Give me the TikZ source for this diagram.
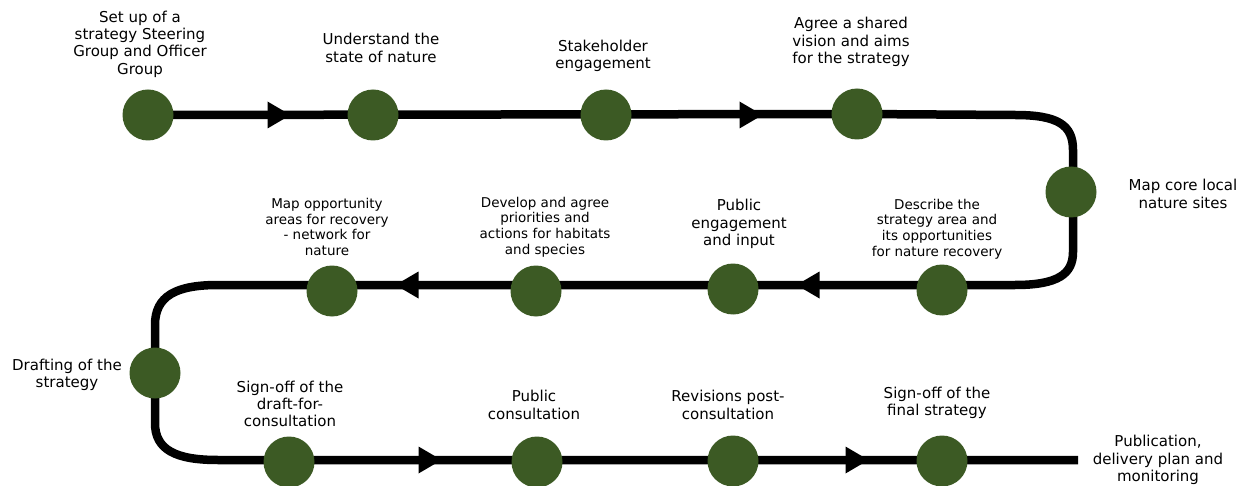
\documentclass[tikz,border=0pt]{standalone}
\usepackage{fontspec}
\setmainfont{DejaVu Sans}
\usetikzlibrary{backgrounds}
\definecolor{stepgreen}{RGB}{60,90,36}
\begin{document}
\begin{tikzpicture}[x=1pt,y=-1pt,
  dot/.style={circle,fill=stepgreen,minimum size=51pt,inner sep=0pt},
  lbl/.style={align=center,inner sep=0pt,font=\fontsize{15}{17.4}\selectfont},
  slbl/.style={align=center,inner sep=0pt,font=\fontsize{13.5}{15.6}\selectfont},
  track/.style={line width=8.5pt,black},
  tipR/.pic={\fill[black] (-11.5,-13.5) -- (11.5,0) -- (-11.5,13.5) -- cycle;},
  tipL/.pic={\fill[black] (11.5,-13.5) -- (-11.5,0) -- (11.5,13.5) -- cycle;}]
\useasboundingbox (0,0) rectangle (1249,486);

% step circles
\node[dot] (s1) at (148,115) {};
\node[dot] (s2) at (373,115) {};
\node[dot] (s3) at (606,115) {};
\node[dot] (s4) at (857,114) {};
\node[dot] (s5) at (1071,192) {};
\node[dot] (s6) at (942,290) {};
\node[dot] (s7) at (733,289) {};
\node[dot] (s8) at (536,291) {};
\node[dot] (s9) at (332,291) {};
\node[dot] (s10) at (155,373) {};
\node[dot] (s11) at (289,462) {};
\node[dot] (s12) at (537,462) {};
\node[dot] (s13) at (733,461) {};
\node[dot] (s14) at (942,461) {};
\coordinate (fin) at (1078,460);

% track
\begin{pgfonlayer}{background}
\draw[track] (s1.center) -- (s4.center) -- (1015,115)
  .. controls (1058,115) and (1073,125) .. (1073,150) -- (1073,252)
  .. controls (1073,274) and (1058,285) .. (1015,285) -- (218,285)
  .. controls (176,285) and (155,296) .. (155,325) -- (155,423)
  .. controls (155,450) and (176,460) .. (218,460) -- (fin);
\end{pgfonlayer}

% arrowheads
\pic at (279,115) {tipR};
\pic at (751,115) {tipR};
\pic at (808,285) {tipL};
\pic at (407,285) {tipL};
\pic at (430,460) {tipR};
\pic at (857,460) {tipR};

% labels
\node[lbl] (t1) at (140,44) {Set up of a\\strategy Steering\\Group and Officer\\Group};
\node[lbl] (t2) at (381,48) {Understand the\\state of nature};
\node[lbl] (t3) at (603,56) {Stakeholder\\engagement};
\node[lbl] (t4) at (851,42) {Agree a shared\\vision and aims\\for the strategy};
\node[lbl] (t5) at (1183,194) {Map core local\\nature sites};
\node[slbl] (t6) at (937,229) {Describe the\\strategy area and\\its opportunities\\for nature recovery};
\node[lbl] (t7) at (739,224) {Public\\engagement\\and input};
\node[slbl] (t8) at (545,227) {Develop and agree\\priorities and\\actions for habitats\\and species};
\node[slbl] (t9) at (327,227) {Map opportunity\\areas for recovery\\- network for\\nature};
\node[lbl] (t10) at (67,375) {Drafting of the\\strategy};
\node[lbl] (t11) at (290,404) {Sign-off of the\\draft-for-\\consultation};
\node[lbl] (t12) at (534,405) {Public\\consultation};
\node[lbl] (t13) at (728,405) {Revisions post-\\consultation};
\node[lbl] (t14) at (937,403) {Sign-off of the\\final strategy};
\node[lbl] (t15) at (1158,460) {Publication,\\delivery plan and\\monitoring};
\end{tikzpicture}
\end{document}
